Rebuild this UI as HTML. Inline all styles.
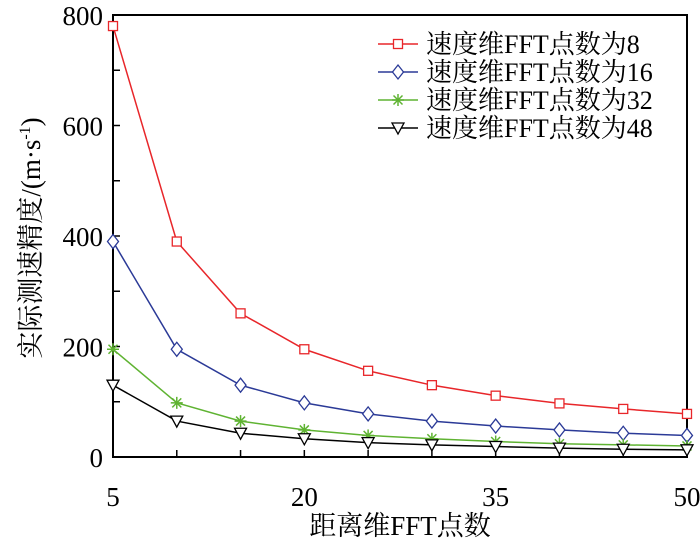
<!DOCTYPE html>
<html><head><meta charset="utf-8"><style>
body{margin:0;background:#fff}
svg{display:block;font-family:"Liberation Serif","Noto Serif CJK SC",serif}
</style></head><body>
<svg id="c" width="700" height="545" xmlns="http://www.w3.org/2000/svg"></svg>
<script>
const xValues=[5,10,15,20,25,30,35,40,45,50];
const s8=[780,390,260,195,156,130,111,97,87,78];
const s16=[390,195,130,98,78,65,56,49,43,39];
const s32=[195,98,65,49,39,33,28,24,22,20];
const s48=[130,65,43,33,26,22,19,16,14,13];
const xTickLabels=[5,20,35,50];
const yTickLabels=[0,200,400,600,800];
const seriesNames=["速度维FFT点数为8","速度维FFT点数为16","速度维FFT点数为32","速度维FFT点数为48"];
const L=113,R=687,T=15,B=457;
const xs=v=>L+(v-5)/45*(R-L);
const ys=v=>B-v/800*(B-T);
const svg=document.getElementById('c');
const NS='http://www.w3.org/2000/svg';
function mk(tag,attrs,parent){const e=document.createElementNS(NS,tag);for(const k in attrs)e.setAttribute(k,attrs[k]);(parent||svg).appendChild(e);return e;}
function txt(s,x,y,size,anchor,name){const t=mk('text',{x:x,y:y,'font-size':size,'text-anchor':anchor,fill:'#000'});t.textContent=s;


return t;}
const fr=mk('rect',{x:L,y:T,width:R-L,height:B-T,fill:'none',stroke:'#000','stroke-width':2});


for(let v=0;v<=800;v+=100){const tk=mk('line',{x1:L,x2:L+7,y1:ys(v),y2:ys(v),stroke:'#000','stroke-width':1.5});

}
for(const v of xValues){const tk=mk('line',{x1:xs(v),x2:xs(v),y1:B,y2:B-7,stroke:'#000','stroke-width':1.5});

}
yTickLabels.forEach(v=>txt(String(v),L-10,ys(v)+10,27,'end','y-tick-label'));
xTickLabels.forEach(v=>txt(String(v),xs(v),B+49,27,'middle','x-tick-label'));
txt('距离维FFT点数',400,535,27,'middle','x-axis-title');
const yt=txt('实际测速精度/(m·s',0,0,27,'middle','y-axis-title');
yt.setAttribute('transform','translate(40,238) rotate(-90)');
const sup=mk('tspan',{'font-size':16,dy:-10},yt);sup.textContent='-1';
const cl=mk('tspan',{dy:10},yt);cl.textContent=')';
function marker(type,x,y,color,g){
 if(type==='sq')return mk('rect',{x:x-4.5,y:y-4.5,width:9,height:9,fill:'#fff',stroke:color,'stroke-width':1.3},g);
 if(type==='di')return mk('polygon',{points:`${x},${y-7} ${x+5.5},${y} ${x},${y+7} ${x-5.5},${y}`,fill:'#fff',stroke:color,'stroke-width':1.3},g);
 if(type==='tr')return mk('polygon',{points:`${x-6},${y-5} ${x+6},${y-5} ${x},${y+6}`,fill:'#fff',stroke:color,'stroke-width':1.3},g);
 const p=mk('g',{stroke:color,'stroke-width':1.5},g);
 mk('line',{x1:x-6,x2:x+6,y1:y,y2:y},p);mk('line',{x1:x,x2:x,y1:y-6,y2:y+6},p);
 mk('line',{x1:x-4.5,x2:x+4.5,y1:y-4.5,y2:y+4.5},p);mk('line',{x1:x-4.5,x2:x+4.5,y1:y+4.5,y2:y-4.5},p);return p;
}
const series=[[s8,'#e8262a','sq'],[s16,'#2b3a97','di'],[s32,'#5fb332','st'],[s48,'#000','tr']];
series.forEach(([d,c,m],i)=>{
 const g=mk('g',{});
 
 
 const pl=mk('polyline',{points:d.map((v,j)=>xs(xValues[j])+','+ys(v)).join(' '),fill:'none',stroke:c,'stroke-width':1.5},g);
 
 
 d.forEach((v,j)=>{const mm=marker(m,xs(xValues[j]),ys(v),c,g);
  
  });
 const ly=44+i*28;
 const lg=mk('g',{});
 
 
 mk('line',{x1:378,x2:418,y1:ly,y2:ly,stroke:c,'stroke-width':1.5},lg);
 marker(m,398,ly,c,lg);
 const t=txt(seriesNames[i],426,ly+9,26,'start','legend-label');lg.appendChild(t);
});
</script>
</body></html>
